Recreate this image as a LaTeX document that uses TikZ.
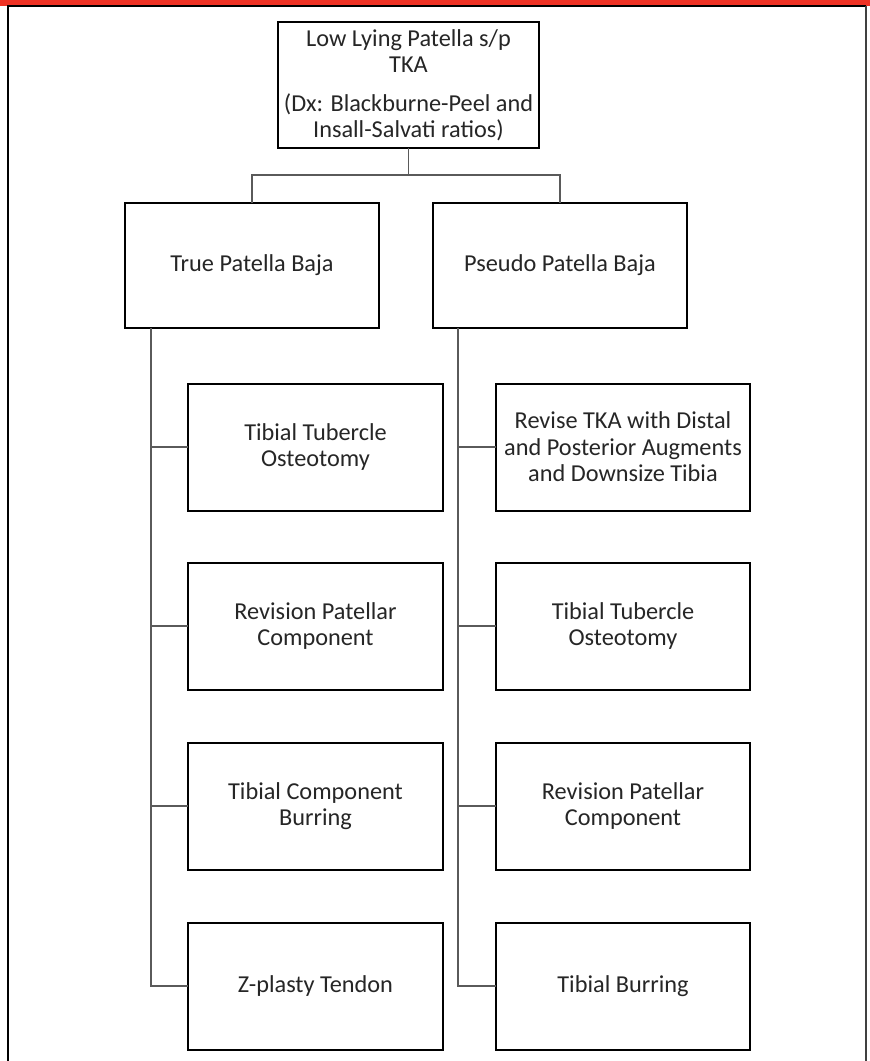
\documentclass[tikz,border=0pt]{standalone}
\usepackage{fontspec}
\setmainfont{Carlito}
\definecolor{topred}{RGB}{238,50,36}
\definecolor{txt}{RGB}{38,38,38}
\definecolor{conn}{RGB}{90,90,90}
\tikzset{
  box/.style={draw=black, line width=2pt, fill=white, align=center, text=txt,
    inner sep=0pt, outer sep=0pt, minimum width=254pt, minimum height=127pt,
    font=\fontsize{24.3}{26.5}\selectfont},
  conline/.style={draw=conn, line width=1.3pt},
  framel/.style={draw=black, line width=1.6pt}
}
\begin{document}
\begin{tikzpicture}[x=1pt,y=-1pt]
\useasboundingbox (0,0) rectangle (870,1061);
\fill[white] (0,0) rectangle (870,1061);
\fill[topred] (0,0) rectangle (870,5.5);
\draw[framel] (8,1062) -- (8,6) -- (866,6);
\draw[draw=black!75, line width=1.6pt] (866,6) -- (866,1062);

\node[box, minimum width=261pt, minimum height=126pt] (top) at (408.5,85)
  {Low Lying Patella s/p\\TKA\\[12pt](Dx: Blackburne-Peel and\\Insall-Salvati ratios)};

\node[box, minimum height=125pt] (true) at (252,265.5) {True Patella Baja};
\node[box, minimum height=125pt] (pseudo) at (560,265.5) {Pseudo Patella Baja};

\node[box, minimum width=255pt] (l1) at (315.5,447) {Tibial Tubercle\\Osteotomy};
\node[box, minimum width=255pt] (l2) at (315.5,626) {Revision Patellar\\Component};
\node[box, minimum width=255pt] (l3) at (315.5,806) {Tibial Component\\Burring};
\node[box, minimum width=255pt] (l4) at (315.5,986) {Z-plasty Tendon};

\node[box] (r1) at (623,447) {Revise TKA with Distal\\and Posterior Augments\\and Downsize Tibia};
\node[box] (r2) at (623,626) {Tibial Tubercle\\Osteotomy};
\node[box] (r3) at (623,806) {Revision Patellar\\Component};
\node[box] (r4) at (623,986) {Tibial Burring};

\coordinate (j) at (408.5,175);
\draw[conline] (top.south) -- (j);
\draw[conline] (true.north) -- (true.north |- j) -- (pseudo.north |- j) -- (pseudo.north);

\coordinate (tl) at (151,328);
\coordinate (tr) at (458,328);
\draw[conline] (tl) |- (l4.west);
\draw[conline] (tl |- l1.west) -- (l1.west);
\draw[conline] (tl |- l2.west) -- (l2.west);
\draw[conline] (tl |- l3.west) -- (l3.west);
\draw[conline] (tr) |- (r4.west);
\draw[conline] (tr |- r1.west) -- (r1.west);
\draw[conline] (tr |- r2.west) -- (r2.west);
\draw[conline] (tr |- r3.west) -- (r3.west);
\end{tikzpicture}
\end{document}
